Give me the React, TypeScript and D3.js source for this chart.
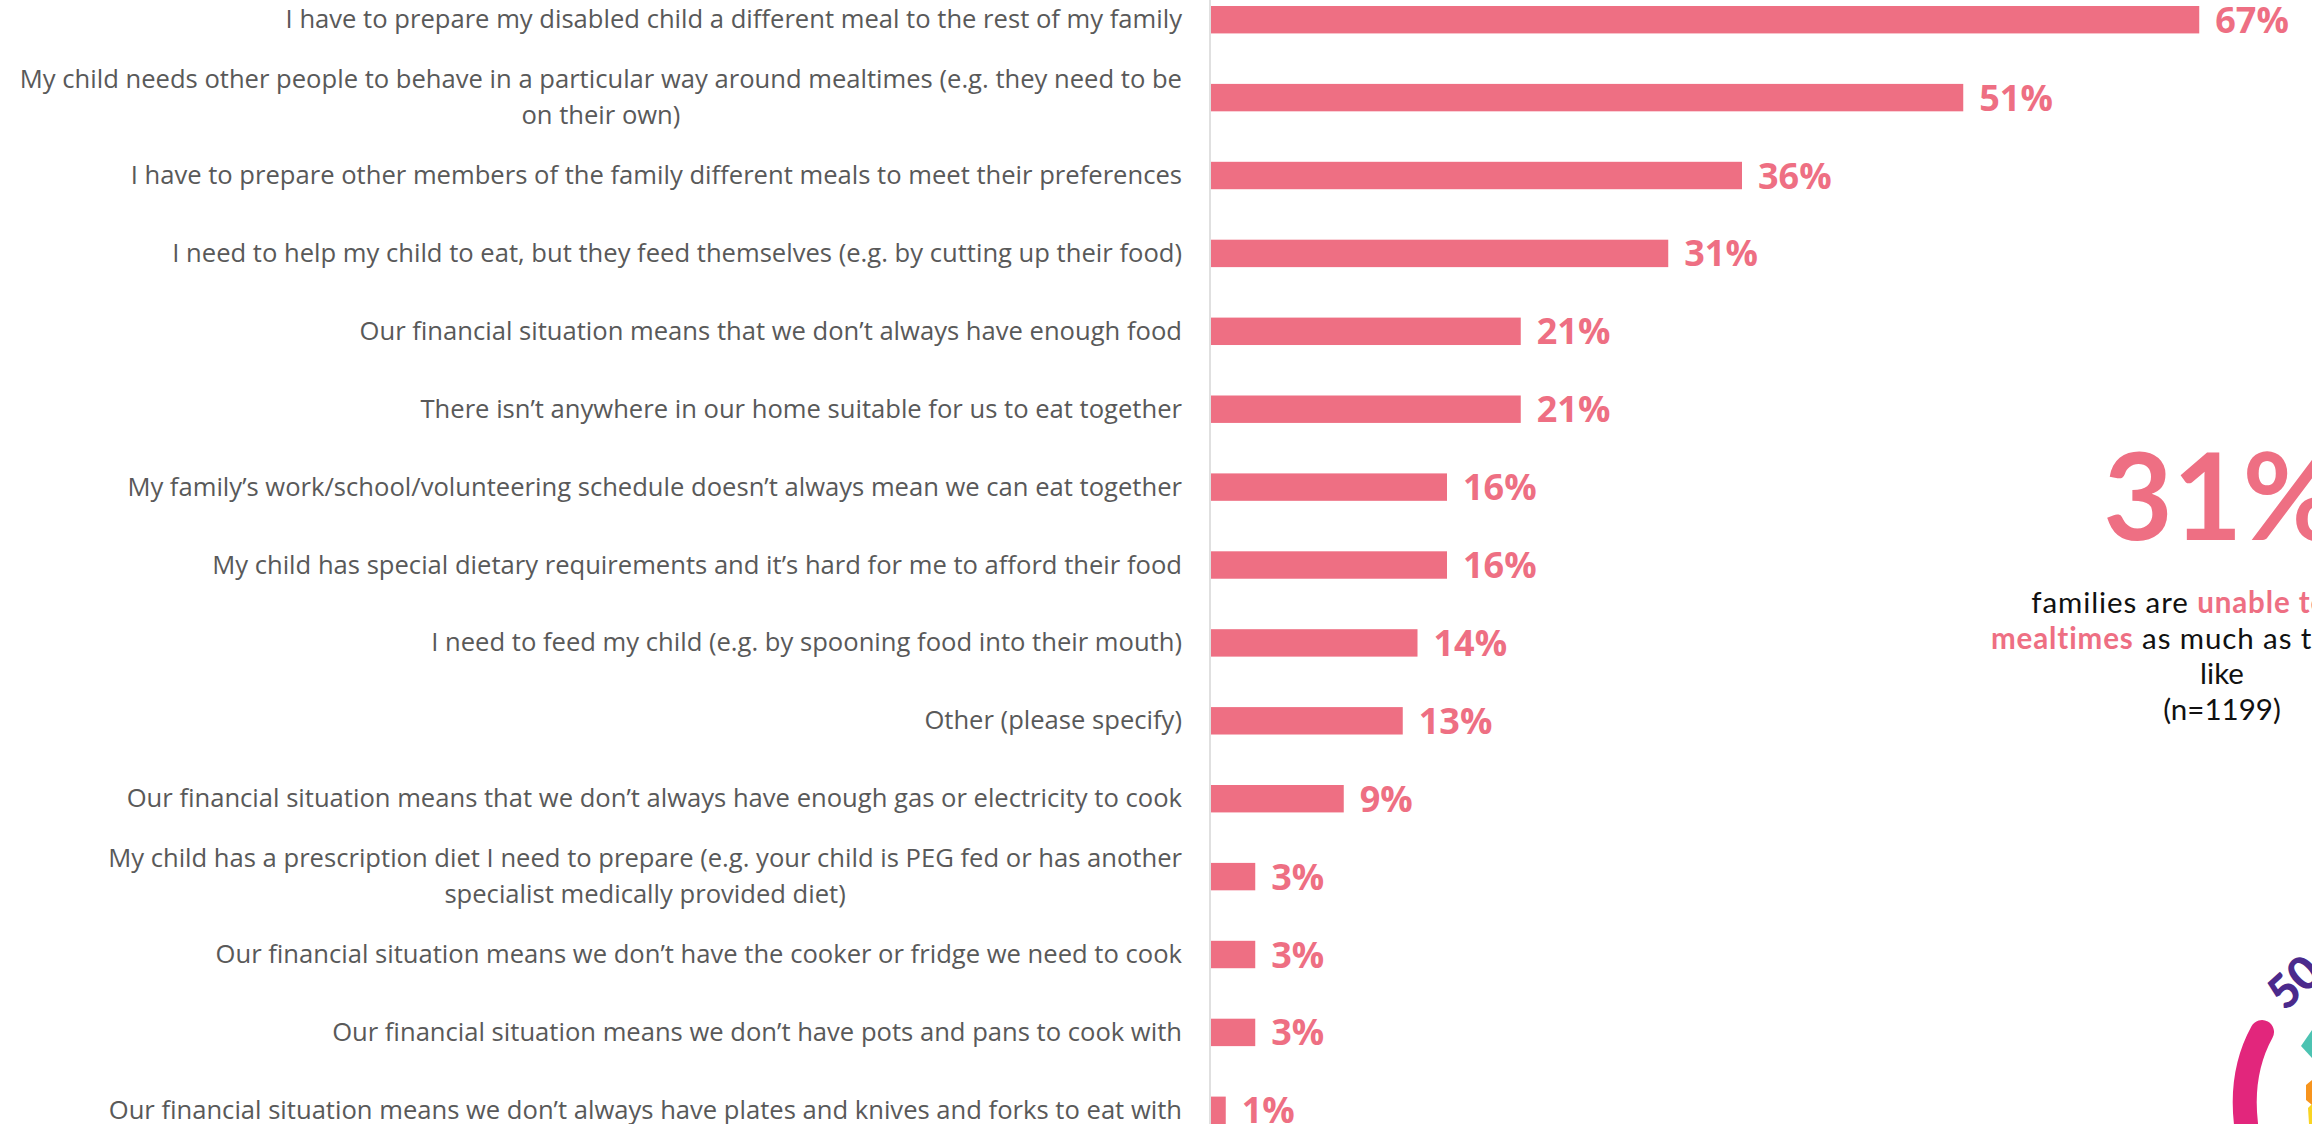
import React, { useEffect, useRef } from "react";
import * as d3 from "d3";

const categories: string[] = [
  "I have to prepare my disabled child a different meal to the rest of my family",
  "My child needs other people to behave in a particular way around mealtimes (e.g. they need to be\non their own)",
  "I have to prepare other members of the family different meals to meet their preferences",
  "I need to help my child to eat, but they feed themselves (e.g. by cutting up their food)",
  "Our financial situation means that we don\u2019t always have enough food",
  "There isn\u2019t anywhere in our home suitable for us to eat together",
  "My family\u2019s work/school/volunteering schedule doesn\u2019t always mean we can eat together",
  "My child has special dietary requirements and it\u2019s hard for me to afford their food",
  "I need to feed my child (e.g. by spooning food into their mouth)",
  "Other (please specify)",
  "Our financial situation means that we don\u2019t always have enough gas or electricity to cook",
  "My child has a prescription diet I need to prepare (e.g. your child is PEG fed or has another\nspecialist medically provided diet)",
  "Our financial situation means we don\u2019t have the cooker or fridge we need to cook",
  "Our financial situation means we don\u2019t have pots and pans to cook with",
  "Our financial situation means we don\u2019t always have plates and knives and forks to eat with",
];

const values: number[] = [67, 51, 36, 31, 21, 21, 16, 16, 14, 13, 9, 3, 3, 3, 1];

const calloutValue = "31%";
const calloutLines: { text: string; bold: boolean }[][] = [
  [
    { text: "families are ", bold: false },
    { text: "unable to enjoy", bold: true },
  ],
  [
    { text: "mealtimes", bold: true },
    { text: " as much as they would", bold: false },
  ],
  [{ text: "like", bold: false }],
  [{ text: "(n=1199)", bold: false }],
];

const W = 2312;
const H = 1124;
const PINK = "#EE6F83";
const LABEL_GREY = "#595959";

export default function App() {
  const ref = useRef<SVGSVGElement | null>(null);

  useEffect(() => {
    const svg = d3.select(ref.current);
    svg.selectAll("*").remove();

    const step = 77.9;
    const padIn = 0.648;
    const y0 = 6 - (padIn / 2) * step;
    const y = d3
      .scaleBand<string>()
      .domain(categories)
      .range([y0, y0 + categories.length * step])
      .paddingInner(padIn)
      .paddingOuter(padIn / 2);

    const x = d3.scaleLinear().domain([0, 100]).range([1211, 1211 + 1475]);

    svg.append("rect").attr("width", W).attr("height", H).attr("fill", "#fff");

    // axis line
    svg
      .append("line")
      .attr("x1", x(0) - 1)
      .attr("x2", x(0) - 1)
      .attr("y1", 0)
      .attr("y2", H)
      .attr("stroke", "#d6d6d6")
      .attr("stroke-width", 1.5);

    // bars
    svg
      .append("g")
      .selectAll("rect")
      .data(categories)
      .join("rect")
      .attr("x", x(0))
      .attr("y", (d) => y(d)!)
      .attr("height", y.bandwidth())
      .attr("width", (_d, i) => x(values[i]) - x(0))
      .attr("fill", PINK);

    // value labels
    svg
      .append("g")
      .selectAll("text")
      .data(categories)
      .join("text")
      .attr("x", (_d, i) => x(values[i]) + 16)
      .attr("y", (d) => y(d)! + y.bandwidth() / 2 + 13)
      .attr("font-family", "'Open Sans', sans-serif")
      .attr("font-weight", 700)
      .attr("font-size", 36)
      .attr("fill", PINK)
      .text((_d, i) => `${values[i]}%`);

    // category labels
    const labelX = 1182;
    const fs = 25.6;
    const lg = svg.append("g");
    categories.forEach((c) => {
      const lines = c.split("\n");
      const cy = y(c)! + y.bandwidth() / 2;
      const lh = 36;
      const first = cy - ((lines.length - 1) * lh) / 2 + 8.5;
      const t0 = lg
        .append("text")
        .attr("x", labelX)
        .attr("y", first)
        .attr("text-anchor", "end")
        .attr("font-family", "'Open Sans', sans-serif")
        .attr("font-size", fs)
        .attr("fill", LABEL_GREY)
        .text(lines[0]);
      if (lines.length > 1) {
        const w0 = (t0.node() as SVGTextElement).getComputedTextLength();
        const mid = labelX - w0 / 2;
        for (let k = 1; k < lines.length; k++) {
          lg.append("text")
            .attr("x", mid)
            .attr("y", first + k * lh)
            .attr("text-anchor", "middle")
            .attr("font-family", "'Open Sans', sans-serif")
            .attr("font-size", fs)
            .attr("fill", LABEL_GREY)
            .text(lines[k]);
        }
      }
    });

    // callout
    const cx = 2222;
    svg
      .append("text")
      .attr("x", cx)
      .attr("y", 540)
      .attr("text-anchor", "middle")
      .attr("font-family", "Lato, sans-serif")
      .attr("font-weight", 700)
      .attr("font-size", 120)
      .attr("fill", PINK)
      .text(calloutValue);

    calloutLines.forEach((line, i) => {
      const t = svg
        .append("text")
        .attr("x", cx)
        .attr("y", 613 + i * 35.7)
        .attr("text-anchor", "middle")
        .attr("font-family", "Lato, sans-serif")
        .attr("font-size", 29.5)
        .attr("letter-spacing", i < 2 ? 0.9 : 0)
        .attr("fill", "#111");
      line.forEach((seg) => {
        t.append("tspan")
          .attr("font-weight", seg.bold ? 700 : 400)
          .attr("fill", seg.bold ? PINK : "#111")
          .text(seg.text);
      });
    });

    // logo fragment (decorative)
    const logo = svg.append("g");
    logo
      .append("path")
      .attr("d", "M 2262 1032 Q 2240 1072 2246 1124")
      .attr("fill", "none")
      .attr("stroke", "#E2267C")
      .attr("stroke-width", 24)
      .attr("stroke-linecap", "round");
    logo
      .append("text")
      .attr("transform", "translate(2285 1012) rotate(-42)")
      .attr("font-family", "Lato, sans-serif")
      .attr("font-weight", 900)
      .attr("font-size", 46)
      .attr("fill", "#4B2A8C")
      .text("50");
    logo
      .append("path")
      .attr("d", "M 2301 1046 L 2312 1030 L 2312 1058 Z")
      .attr("fill", "#4CC3B2");
    logo
      .append("path")
      .attr("d", "M 2306 1085 L 2312 1080 L 2312 1105 L 2306 1100 Z")
      .attr("fill", "#F7941D");
    logo
      .append("path")
      .attr("d", "M 2308 1108 L 2312 1104 L 2312 1124 L 2309 1124 Z")
      .attr("fill", "#F9D423");
  }, []);

  return (
    <svg
      ref={ref}
      width={W}
      height={H}
      style={{ position: "absolute", left: 0, top: 0, display: "block" }}
    />
  );
}
